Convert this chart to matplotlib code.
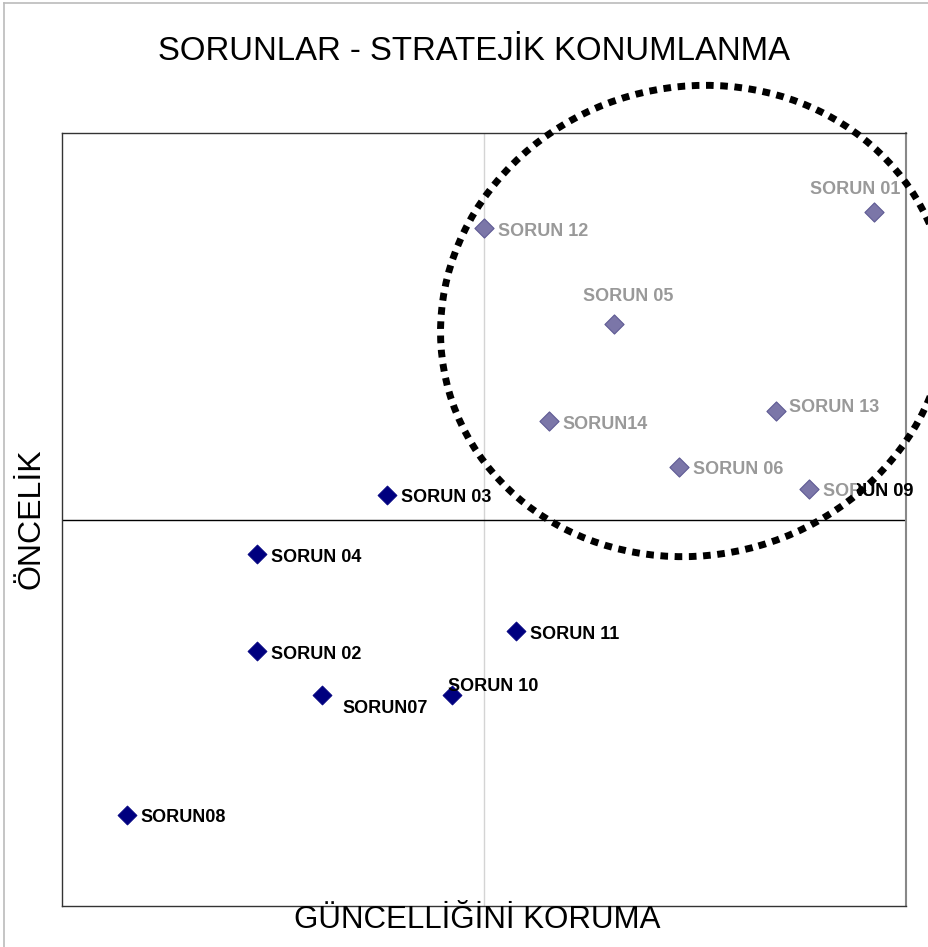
import matplotlib
matplotlib.use("Agg")
import matplotlib.pyplot as plt
from matplotlib.patches import Ellipse
from matplotlib.lines import Line2D
from matplotlib.transforms import Bbox, TransformedBbox

plt.rcParams['font.family'] = ['Liberation Sans', 'DejaVu Sans']

title = "SORUNLAR - STRATEJİK KONUMLANMA"
x_label = "GÜNCELLİĞİNİ KORUMA"
y_label = "ÖNCELİK"

# group inside the ellipse (light purple markers, gray labels)
hi_names = ["SORUN 01", "SORUN 12", "SORUN 05", "SORUN 13", "SORUN14", "SORUN 06", "SORUN 09"]
hi_x = [12.5, 6.5, 8.5, 11.0, 7.5, 9.5, 11.5]
hi_y = [8.98, 8.77, 7.53, 6.40, 6.27, 5.68, 5.39]

# other issues (navy markers, black labels)
lo_names = ["SORUN 03", "SORUN 04", "SORUN 11", "SORUN 02", "SORUN07", "SORUN 10", "SORUN08"]
lo_x = [5.0, 3.0, 7.0, 3.0, 4.0, 6.0, 1.0]
lo_y = [5.32, 4.55, 3.56, 3.30, 2.73, 2.73, 1.18]

x_min, x_max, x_mid = 0, 13, 6.5
y_min, y_max, y_mid = 0, 10, 5.0

# label offsets in pixels (dx, dy, ha)
hi_off = {"SORUN 01": (-18, 22, 'center'), "SORUN 12": (14, -3, 'left'),
          "SORUN 05": (14, 27, 'center'), "SORUN 13": (13, 4, 'left'),
          "SORUN14": (14, -3, 'left'), "SORUN 06": (14, -3, 'left'),
          "SORUN 09": (14, -2, 'left')}
lo_off = {"SORUN 03": (14, -3, 'left'), "SORUN 04": (14, -3, 'left'),
          "SORUN 11": (14, -4, 'left'), "SORUN 02": (14, -4, 'left'),
          "SORUN07": (21, -14, 'left'), "SORUN 10": (-4, 8, 'left'),
          "SORUN08": (14, -3, 'left')}

fig = plt.figure(figsize=(9.29, 9.47), dpi=100)
ax = fig.add_axes([62/929, 1-906/947, 844/929, 773/947])
ax.set_xlim(x_min, x_max)
ax.set_ylim(y_min, y_max)
ax.set_xticks([])
ax.set_yticks([])
for s in ['left', 'top', 'bottom']:
    ax.spines[s].set_color('#333333')
    ax.spines[s].set_linewidth(1.0)
ax.spines['right'].set_color('#888888')
ax.spines['right'].set_linewidth(1.5)

ax.axvline(x_mid, color='#d4d4d4', lw=1.0, zorder=1)
ax.axhline(y_mid, color='#000000', lw=1.0, zorder=1)

ax.scatter(hi_x, hi_y, marker='D', s=95, color='#7b76a8', edgecolors='#5e5a94',
           linewidths=0.8, zorder=3)
ax.scatter(lo_x, lo_y, marker='D', s=95, color='#00007f', edgecolors='#00007f',
           linewidths=0.5, zorder=3)

FS = 13
for n, x, y in zip(hi_names, hi_x, hi_y):
    dx, dy, ha = hi_off[n]
    ax.annotate(n, (x, y), xytext=(dx, dy), textcoords='offset pixels',
                ha=ha, va='center', fontsize=FS, fontweight='bold',
                color='#999999', zorder=4)
    if n == "SORUN 09":
        t = ax.annotate(n, (x, y), xytext=(dx, dy), textcoords='offset pixels',
                        ha=ha, va='center', fontsize=FS, fontweight='bold',
                        color='#000000', zorder=7)
        t.set_clip_on(True)
        t.set_clip_box(TransformedBbox(Bbox([[857/929, 0], [1, 1]]), fig.transFigure))

for n, x, y in zip(lo_names, lo_x, lo_y):
    dx, dy, ha = lo_off[n]
    ax.annotate(n, (x, y), xytext=(dx, dy), textcoords='offset pixels',
                ha=ha, va='center', fontsize=FS, fontweight='bold',
                color='#000000', zorder=4)

# dotted ellipse highlighting the group (drawn in inches on the figure)
ell = Ellipse((6.94, 6.26), 5.10, 4.68, angle=16, fill=False, edgecolor='black',
              lw=5.0, linestyle=(0, (1.1, 0.95)), transform=fig.dpi_scale_trans,
              clip_on=False, zorder=6)
ell.set_capstyle('butt')
fig.add_artist(ell)

fig.text(474/929, 1-52/947, title, ha='center', va='center', fontsize=23.7)
fig.text(477/929, 1-920/947, x_label, ha='center', va='center', fontsize=22.5)
fig.text(32/929, 1-519/947, y_label, ha='center', va='center', fontsize=23, rotation=90)

fig.add_artist(Line2D([4/929, 4/929], [0, 1-3/947], transform=fig.transFigure,
                      color='#bbbbbb', lw=1.2))
fig.add_artist(Line2D([4/929, 1], [1-3/947, 1-3/947], transform=fig.transFigure,
                      color='#bbbbbb', lw=1.2))

fig.savefig('out.png', dpi=100)
